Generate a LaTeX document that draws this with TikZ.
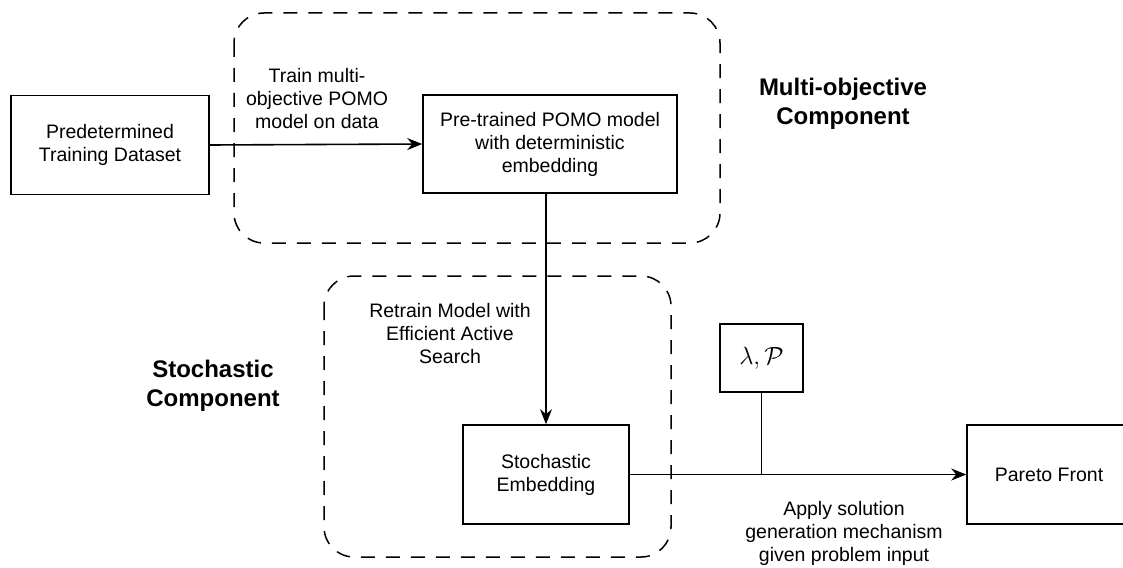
\documentclass[tikz,border=0pt]{standalone}
\usepackage{fontspec}
\setmainfont{Liberation Sans}
\usetikzlibrary{arrows.meta,calc}
\begin{document}
\begin{tikzpicture}[x=1pt,y=-1pt,
  box/.style={draw,line width=1.6pt,align=center,inner sep=0pt,
    font=\fontsize{19.5}{23}\selectfont},
  lbl/.style={align=center,inner sep=0pt,font=\fontsize{19.5}{23}\selectfont},
  head/.style={align=center,inner sep=0pt,font=\fontsize{24}{28.5}\selectfont\bfseries},
  grp/.style={draw,line width=1.5pt,dash pattern=on 14pt off 11pt,rounded corners=30pt},
  conn/.style={line width=1.6pt},
  arr/.style={conn,-{Stealth[length=15pt,width=12pt,inset=5pt]}}]
\useasboundingbox (0,0) rectangle (1123,567);
\clip (0,0) rectangle (1123,567);
% groups
\draw[grp] (234,13) rectangle (720,243);
\draw[grp] (324,276) rectangle (671,557);
% boxes
\node[box,minimum width=198pt,minimum height=99pt] (data) at (110,145) {Predetermined\\Training Dataset};
\node[box,minimum width=254pt,minimum height=98pt] (pre) at (550,144) {Pre-trained POMO model\\with deterministic\\embedding};
\node[box,minimum width=166pt,minimum height=99pt] (stoch) at (546,474.5) {Stochastic\\Embedding};
\node[box,minimum width=83pt,minimum height=68pt,font=\fontsize{24}{28}\selectfont] (lam) at (761.5,358) {$\lambda, \mathcal{P}$};
\node[box,minimum width=164pt,minimum height=99pt] (pareto) at (1049,474.5) {Pareto Front};
% connectors
\draw[arr] (data.east) -- (pre.west);
\draw[arr] (stoch.north |- pre.south) -- (stoch.north);
\draw[arr] (stoch.east) -- (pareto.west);
\coordinate (join) at (lam.south |- stoch.east);
\draw[conn] (lam.south) -- (join);
% labels
\node[lbl] (ltrain) at (317,99) {Train multi-\\objective POMO\\model on data};
\node[lbl] (lretrain) at (450,334) {Retrain Model with\\Efficient Active\\Search};
\node[lbl] (lapply) at (844,533) {Apply solution\\generation mechanism\\given problem input};
\node[head] (hmulti) at (843,104) {Multi-objective\\Component};
\node[head] (hstoch) at (213,386) {Stochastic\\Component};
\end{tikzpicture}
\end{document}
